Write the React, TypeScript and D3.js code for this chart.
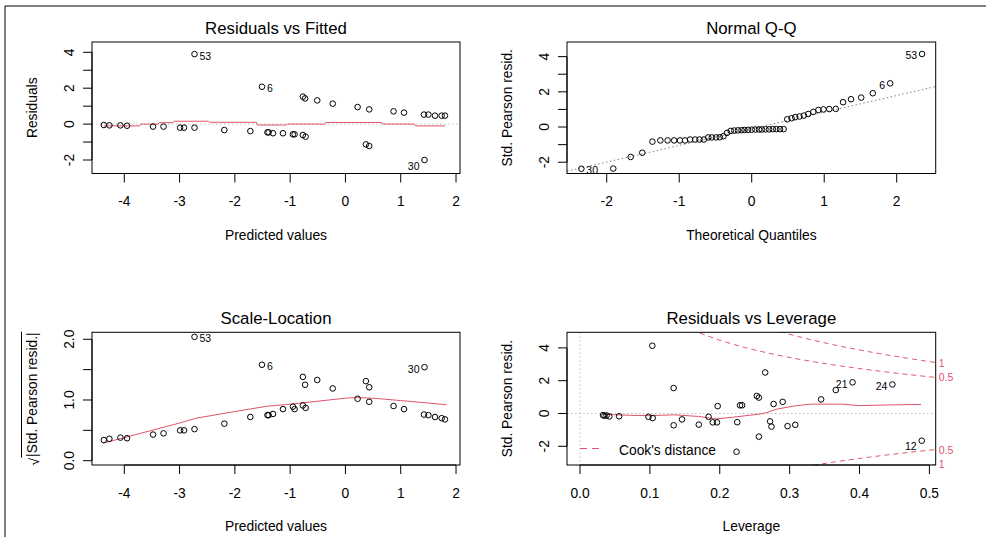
import React from "react";
import * as d3 from "d3";

// ---------- DATA ----------
// Residuals vs Fitted / Scale-Location (shared fitted values)
const fitted = [-4.37, -4.27, -4.07, -3.95, -3.48, -3.29, -2.99, -2.92, -2.73, -2.73, -2.19, -1.72, -1.51, -1.41, -1.39, -1.31, -1.13, -0.95, -0.92, -0.77, -0.73, -0.77, -0.72, -0.51, -0.23, 0.22, 0.37, 0.43, 0.43, 0.87, 1.06, 1.43, 1.42, 1.5, 1.62, 1.74, 1.8];
const residuals = [-0.05, -0.07, -0.07, -0.09, -0.14, -0.14, -0.2, -0.2, -0.2, 3.9, -0.33, -0.39, 2.08, -0.46, -0.46, -0.51, -0.51, -0.57, -0.57, 1.53, 1.43, -0.61, -0.7, 1.32, 1.14, 0.95, -1.13, -1.22, 0.82, 0.71, 0.64, -2.0, 0.53, 0.53, 0.47, 0.47, 0.47];
const sqrtStdResid = [0.34, 0.36, 0.38, 0.37, 0.43, 0.45, 0.5, 0.5, 0.52, 2.04, 0.61, 0.72, 1.58, 0.75, 0.75, 0.77, 0.85, 0.89, 0.85, 1.38, 1.25, 0.91, 0.87, 1.33, 1.19, 1.02, 1.31, 1.21, 0.97, 0.9, 0.85, 1.54, 0.76, 0.75, 0.72, 0.7, 0.68];
const fittedIdIndex = [9, 12, 31];
const fittedIdText = ["53", "6", "30"];

const rvfSmoothX = [-4.37, -3.72, -3.7, -3.39, -3.37, -3.12, -3.1, -2.48, -2.46, -1.61, -1.59, -1.07, -1.05, -0.38, -0.36, 0.65, 0.67, 1.25, 1.27, 1.8];
const rvfSmoothY = [-0.1, -0.1, 0.0, 0.0, 0.08, 0.08, 0.16, 0.16, 0.1, 0.1, -0.05, -0.05, 0.0, 0.0, 0.09, 0.09, 0.0, 0.0, -0.1, -0.1];

const slSmoothX = [-4.38, -4.0, -3.5, -3.0, -2.7, -2.0, -1.4, -1.0, -0.5, 0.0, 0.2, 0.5, 1.0, 1.5, 1.83];
const slSmoothY = [0.29, 0.38, 0.5, 0.62, 0.7, 0.81, 0.9, 0.93, 0.98, 1.03, 1.04, 1.03, 0.99, 0.95, 0.92];

// Normal Q-Q
const qqTheoretical = [-2.35, -1.91, -1.67, -1.51, -1.37, -1.26, -1.16, -1.07, -0.99, -0.92, -0.85, -0.78, -0.72, -0.66, -0.6, -0.55, -0.49, -0.44, -0.39, -0.34, -0.29, -0.24, -0.19, -0.14, -0.1, -0.05, 0.0, 0.05, 0.1, 0.14, 0.19, 0.24, 0.29, 0.34, 0.39, 0.44, 0.49, 0.55, 0.6, 0.66, 0.72, 0.78, 0.85, 0.92, 0.99, 1.07, 1.16, 1.26, 1.37, 1.51, 1.67, 1.91, 2.35];
const qqSample = [-2.37, -2.36, -1.7, -1.46, -0.83, -0.76, -0.76, -0.76, -0.76, -0.76, -0.71, -0.71, -0.71, -0.71, -0.59, -0.59, -0.59, -0.58, -0.52, -0.33, -0.22, -0.2, -0.19, -0.18, -0.17, -0.16, -0.15, -0.14, -0.14, -0.14, -0.13, -0.13, -0.12, -0.12, -0.12, -0.12, 0.44, 0.5, 0.56, 0.6, 0.65, 0.74, 0.86, 0.97, 1.0, 1.02, 1.03, 1.41, 1.58, 1.67, 1.92, 2.48, 4.15];
const qqIdIndex = [0, 51, 52];
const qqIdText = ["30", "6", "53"];
const qqLineIntercept = -0.1;
const qqLineSlope = 0.945;

// Residuals vs Leverage
const leverage = [0.033, 0.035, 0.038, 0.042, 0.056, 0.098, 0.104, 0.1035, 0.134, 0.134, 0.146, 0.17, 0.184, 0.19, 0.196, 0.197, 0.224, 0.225, 0.229, 0.232, 0.253, 0.256, 0.256, 0.265, 0.272, 0.274, 0.277, 0.29, 0.297, 0.308, 0.345, 0.366, 0.39, 0.447, 0.489];
const stdPearson = [-0.1, -0.14, -0.12, -0.18, -0.17, -0.2, -0.28, 4.13, 1.55, -0.72, -0.36, -0.68, -0.2, -0.54, -0.54, 0.45, -2.33, -0.53, 0.5, 0.5, 1.07, 0.97, -1.41, 2.5, -0.48, -0.8, 0.58, 0.71, -0.77, -0.69, 0.86, 1.43, 1.9, 1.77, -1.66];
const levIdIndex = [34, 32, 33];
const levIdText = ["12", "21", "24"];

const levSmoothX = [0.033, 0.08, 0.1, 0.135, 0.17, 0.195, 0.22, 0.258, 0.267, 0.28, 0.305, 0.33, 0.375, 0.4, 0.44, 0.488];
const levSmoothY = [-0.05, -0.12, -0.13, -0.08, -0.18, -0.33, -0.22, -0.03, 0.05, 0.25, 0.45, 0.57, 0.57, 0.48, 0.52, 0.55];

const cookLevels = [0.5, 1];
const cookLevelText = ["0.5", "1"];
const nParams = 10;

// Tick values
const rvfXTicks = [-4, -3, -2, -1, 0, 1, 2];
const rvfYTicks = [-2, -1, 0, 1, 2, 3, 4];
const rvfYLabels = [-2, 0, 2, 4];
const qqXTicks = [-2, -1, 0, 1, 2];
const qqYTicks = [-2, -1, 0, 1, 2, 3, 4];
const qqYLabels = [-2, 0, 2, 4];
const slYTicks = [0, 0.5, 1, 1.5, 2];
const slYLabels = [0, 1, 2];
const levXTicks = [0, 0.1, 0.2, 0.3, 0.4, 0.5];
const levYTicks = [-2, 0, 2, 4];
const levYLabels = [-2, 0, 2, 4];

// ---------- STYLE ----------
const FONT = "'Liberation Sans', Arial, sans-serif";
const RED = "#DF536B";
const TICK = 9;

type Box = { l: number; r: number; t: number; b: number };

function fmtInt(v: number) {
  return String(v).replace("\u2212", "-");
}
function fmt1(v: number) {
  return v.toFixed(1);
}

function Frame(props: {
  id: string;
  box: Box;
  x: d3.ScaleLinear<number, number>;
  y: d3.ScaleLinear<number, number>;
  xTicks: number[];
  xLabels: number[];
  xFmt: (v: number) => string;
  yTicks: number[];
  yLabels: number[];
  yFmt: (v: number) => string;
  title: string;
  xlab: string;
  ylab: React.ReactNode;
  children?: React.ReactNode;
}) {
  const { box, x, y } = props;
  const xt0 = x(props.xTicks[0]);
  const xt1 = x(props.xTicks[props.xTicks.length - 1]);
  const yt0 = y(props.yTicks[0]);
  const yt1 = y(props.yTicks[props.yTicks.length - 1]);
  const cx = (box.l + box.r) / 2;
  const cy = (box.t + box.b) / 2;
  return (
    <g>
      <defs>
        <clipPath id={props.id}>
          <rect x={box.l} y={box.t} width={box.r - box.l} height={box.b - box.t} />
        </clipPath>
      </defs>
      {props.children}
      <rect x={box.l} y={box.t} width={box.r - box.l} height={box.b - box.t} fill="none" stroke="#000" strokeWidth={1} />
      {/* x axis */}
      <line x1={xt0} x2={xt1} y1={box.b} y2={box.b} stroke="#000" />
      {props.xTicks.map((v) => (
        <line key={"xt" + v} x1={x(v)} x2={x(v)} y1={box.b} y2={box.b + TICK} stroke="#000" />
      ))}
      {props.xLabels.map((v) => (
        <text key={"xl" + v} x={x(v)} y={box.b + 28} textAnchor="middle" dominantBaseline="central" fontSize={13.8} fontFamily={FONT} fill="#000">
          {props.xFmt(v)}
        </text>
      ))}
      {/* y axis */}
      <line x1={box.l} x2={box.l} y1={yt0} y2={yt1} stroke="#000" />
      {props.yTicks.map((v) => (
        <line key={"yt" + v} x1={box.l - TICK} x2={box.l} y1={y(v)} y2={y(v)} stroke="#000" />
      ))}
      {props.yLabels.map((v) => (
        <text key={"yl" + v} transform={`translate(${box.l - 23},${y(v)}) rotate(-90)`} textAnchor="middle" dominantBaseline="central" fontSize={13.8} fontFamily={FONT} fill="#000">
          {props.yFmt(v)}
        </text>
      ))}
      <text x={cx} y={box.t - 13.5} textAnchor="middle" dominantBaseline="central" fontSize={16.8} fontFamily={FONT} fill="#000">
        {props.title}
      </text>
      <text x={cx} y={box.b + 61.5} textAnchor="middle" dominantBaseline="central" fontSize={13.8} fontFamily={FONT} fill="#000">
        {props.xlab}
      </text>
      <g transform={`translate(${box.l - 60},${cy}) rotate(-90)`}>
        {props.ylab}
      </g>
    </g>
  );
}

function Points(props: { xs: number[]; ys: number[]; x: any; y: any }) {
  return (
    <g>
      {props.xs.map((v, i) => (
        <circle key={i} cx={props.x(v)} cy={props.y(props.ys[i])} r={2.8} fill="none" stroke="#000" strokeWidth={1} />
      ))}
    </g>
  );
}

function IdLabels(props: { xs: number[]; ys: number[]; idx: number[]; text: string[]; x: any; y: any; shiftNeg: boolean }) {
  const ext = d3.extent(props.xs) as [number, number];
  const mid = (ext[0] + ext[1]) / 2;
  return (
    <g>
      {props.idx.map((k, j) => {
        const xv = props.xs[k];
        const yv = props.ys[k];
        const right = !(xv > mid);
        const px = props.x(xv) + (right ? 5 : -5);
        const py = props.y(yv) + 1.5 + (props.shiftNeg && yv < 0 ? 4 : 0);
        return (
          <text key={j} x={px} y={py} textAnchor={right ? "start" : "end"} dominantBaseline="central" fontSize={10.5} fontFamily={FONT} fill="#000">
            {props.text[j]}
          </text>
        );
      })}
    </g>
  );
}

function YLab(props: { text: string }) {
  return (
    <text x={0} y={0} textAnchor="middle" dominantBaseline="central" fontSize={13.8} fontFamily={FONT} fill="#000">
      {props.text}
    </text>
  );
}

export default function App() {
  const W = 986;
  const H = 537;

  const b1: Box = { l: 92, r: 460, t: 42, b: 173.5 };
  const b2: Box = { l: 567, r: 935.7, t: 42, b: 173.5 };
  const b3: Box = { l: 92, r: 460, t: 332.3, b: 465 };
  const b4: Box = { l: 567, r: 935.7, t: 332.3, b: 465 };

  const x1 = d3.scaleLinear().domain([-4.584, 2.072]).range([b1.l, b1.r]);
  const y1 = d3.scaleLinear().domain([-2.752, 4.574]).range([b1.b, b1.t]);
  const x2 = d3.scaleLinear().domain([-2.548, 2.538]).range([b2.l, b2.r]);
  const y2 = d3.scaleLinear().domain([-2.64, 4.83]).range([b2.b, b2.t]);
  const x3 = d3.scaleLinear().domain([-4.584, 2.072]).range([b3.l, b3.r]);
  const y3 = d3.scaleLinear().domain([-0.071, 2.115]).range([b3.b, b3.t]);
  const x4 = d3.scaleLinear().domain([-0.0186, 0.509]).range([b4.l, b4.r]);
  const y4 = d3.scaleLinear().domain([-3.14, 4.95]).range([b4.b, b4.t]);

  const line = (xs: number[], ys: number[], sx: any, sy: any) =>
    d3.line<number>().x((v) => sx(v)).y((_, i) => sy(ys[i]))(xs) || "";

  // Q-Q reference line
  const qqXd = x2.domain();
  const qqLine = d3.line<number>().x((v) => x2(v)).y((v) => y2(qqLineIntercept + qqLineSlope * v))(qqXd) || "";

  // Cook's distance contours
  const levExt = d3.extent(leverage) as [number, number];
  const hMin = Math.min(levExt[0], levExt[1] / 100);
  const hMax = x4.domain()[1];
  const hh = d3.range(101).map((i) => hMin + (i * (hMax - hMin)) / 100);
  const cookPaths: string[] = [];
  cookLevels.forEach((lv) => {
    [1, -1].forEach((s) => {
      const p = d3.line<number>().x((h) => x4(h)).y((h) => y4(s * Math.sqrt((lv * nParams * (1 - h)) / h)))(hh) || "";
      cookPaths.push(p);
    });
  });

  const legY = 448.5;

  return (
    <svg width={W} height={H} style={{ position: "absolute", left: 0, top: 0, background: "#fff" }} xmlns="http://www.w3.org/2000/svg">
      <rect x={0} y={0} width={W} height={H} fill="#fff" />
      <line x1={5} x2={5} y1={6} y2={H} stroke="#000" strokeWidth={1} />
      <line x1={5} x2={W} y1={6} y2={6} stroke="#000" strokeWidth={1} />

      {/* Panel 1: Residuals vs Fitted */}
      <Frame id="c1" box={b1} x={x1} y={y1} xTicks={rvfXTicks} xLabels={rvfXTicks} xFmt={fmtInt} yTicks={rvfYTicks} yLabels={rvfYLabels} yFmt={fmtInt}
        title="Residuals vs Fitted" xlab="Predicted values" ylab={<YLab text="Residuals" />}>
        <g clipPath="url(#c1)">
          <line x1={b1.l} x2={b1.r} y1={y1(0)} y2={y1(0)} stroke="#BEBEBE" strokeDasharray="1.5,2.5" />
          <path d={line(rvfSmoothX, rvfSmoothY, x1, y1)} fill="none" stroke={RED} strokeWidth={1} />
        </g>
        <Points xs={fitted} ys={residuals} x={x1} y={y1} />
        <IdLabels xs={fitted} ys={residuals} idx={fittedIdIndex} text={fittedIdText} x={x1} y={y1} shiftNeg={true} />
      </Frame>

      {/* Panel 2: Normal Q-Q */}
      <Frame id="c2" box={b2} x={x2} y={y2} xTicks={qqXTicks} xLabels={qqXTicks} xFmt={fmtInt} yTicks={qqYTicks} yLabels={qqYLabels} yFmt={fmtInt}
        title="Normal Q-Q" xlab="Theoretical Quantiles" ylab={<YLab text="Std. Pearson resid." />}>
        <g clipPath="url(#c2)">
          <path d={qqLine} fill="none" stroke="#7F7F7F" strokeDasharray="1.5,2.5" />
        </g>
        <Points xs={qqTheoretical} ys={qqSample} x={x2} y={y2} />
        <IdLabels xs={qqTheoretical} ys={qqSample} idx={qqIdIndex} text={qqIdText} x={x2} y={y2} shiftNeg={false} />
      </Frame>

      {/* Panel 3: Scale-Location */}
      <Frame id="c3" box={b3} x={x3} y={y3} xTicks={rvfXTicks} xLabels={rvfXTicks} xFmt={fmtInt} yTicks={slYTicks} yLabels={slYLabels} yFmt={fmt1}
        title="Scale-Location" xlab="Predicted values"
        ylab={
          <g>
            <text x={4} y={0} textAnchor="middle" dominantBaseline="central" fontSize={13.8} fontFamily={FONT} fill="#000">
              {"|Std. Pearson resid.|"}
            </text>
            <text x={-63} y={2} textAnchor="middle" dominantBaseline="central" fontSize={13.8} fontFamily={FONT} fill="#000">
              {"\u221A"}
            </text>
            <line x1={-59} x2={67} y1={-10.5} y2={-10.5} stroke="#000" strokeWidth={1} />
          </g>
        }>
        <g clipPath="url(#c3)">
          <path d={line(slSmoothX, slSmoothY, x3, y3)} fill="none" stroke={RED} strokeWidth={1} />
        </g>
        <Points xs={fitted} ys={sqrtStdResid} x={x3} y={y3} />
        <IdLabels xs={fitted} ys={sqrtStdResid} idx={fittedIdIndex} text={fittedIdText} x={x3} y={y3} shiftNeg={false} />
      </Frame>

      {/* Panel 4: Residuals vs Leverage */}
      <Frame id="c4" box={b4} x={x4} y={y4} xTicks={levXTicks} xLabels={levXTicks} xFmt={fmt1} yTicks={levYTicks} yLabels={levYLabels} yFmt={fmtInt}
        title="Residuals vs Leverage" xlab="Leverage" ylab={<YLab text="Std. Pearson resid." />}>
        <g clipPath="url(#c4)">
          <line x1={b4.l} x2={b4.r} y1={y4(0)} y2={y4(0)} stroke="#BEBEBE" strokeDasharray="1.5,2.5" />
          <line x1={x4(0)} x2={x4(0)} y1={b4.t} y2={b4.b} stroke="#BEBEBE" strokeDasharray="1.5,2.5" />
          <path d={line(levSmoothX, levSmoothY, x4, y4)} fill="none" stroke={RED} strokeWidth={1} />
          {cookPaths.map((p, i) => (
            <path key={i} d={p} fill="none" stroke={RED} strokeWidth={1} strokeDasharray="5,4" />
          ))}
        </g>
        <Points xs={leverage} ys={stdPearson} x={x4} y={y4} />
        <IdLabels xs={leverage} ys={stdPearson} idx={levIdIndex} text={levIdText} x={x4} y={y4} shiftNeg={true} />
        {cookLevels.map((lv, i) =>
          [1, -1].map((s) => (
            <text key={i + "_" + s} x={b4.r + 3} y={y4(s * Math.sqrt((lv * nParams * (1 - hMax)) / hMax))} textAnchor="start" dominantBaseline="central" fontSize={10.5} fontFamily={FONT} fill={RED}>
              {cookLevelText[i]}
            </text>
          ))
        )}
        <line x1={580} x2={603} y1={legY} y2={legY} stroke={RED} strokeDasharray="7,5" />
        <text x={619} y={legY + 1.5} textAnchor="start" dominantBaseline="central" fontSize={13.8} fontFamily={FONT} fill="#000">
          {"Cook's distance"}
        </text>
      </Frame>
    </svg>
  );
}
